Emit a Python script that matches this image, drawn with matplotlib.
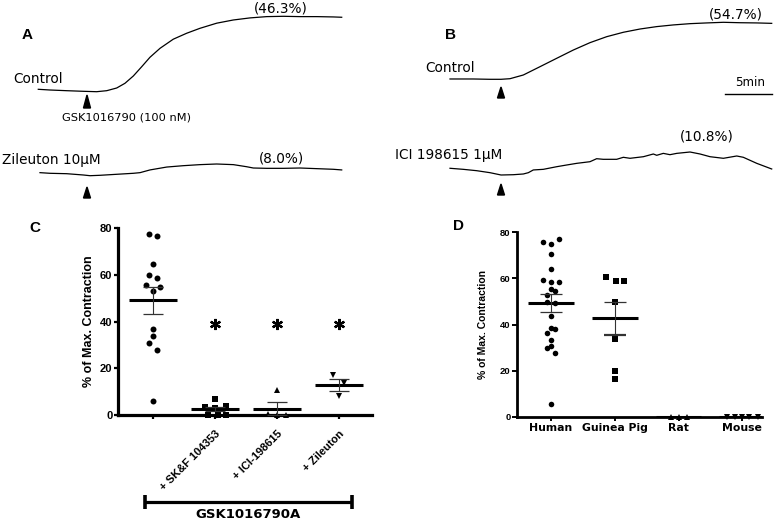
import numpy as np
import matplotlib
matplotlib.use("Agg")
from matplotlib import pyplot as plt
from matplotlib.patches import Polygon

W, H = 777, 521

# ---------------- panels A / B : isometric tension traces (time in min, % of max)
a_ctrl_t = [0, 1.24, 3.02, 4.79, 6.21, 7.28, 8.34, 9.22, 10.11, 11.0, 11.88, 12.95,
            14.36, 15.78, 17.2, 18.98, 20.75, 22.53, 24.3, 26.08, 27.85, 29.63, 31.4, 32.28]
a_ctrl_v = [1.5, 1.06, 0.63, 0.25, 0, 0.63, 2.31, 5.25, 9.81, 15.6, 21.5, 27.1,
            32.8, 36.5, 39.6, 42.8, 44.8, 46.1, 46.9, 47.1, 46.9, 46.9, 46.7, 46.5]

a_zil_t = [0, 1.06, 2.84, 4.61, 5.32, 6.38, 8.16, 9.93, 10.64, 11.7, 13.48, 15.25,
           17.02, 18.79, 20.57, 21.98, 22.69, 24.11, 25.89, 27.66, 29.43, 31.2, 32.09]
a_zil_v = [1.9, 1.5, 1.25, 0.44, 0, 0.25, 0.88, 1.5, 1.9, 3.6, 5.4, 6.25,
           6.9, 7.3, 6.9, 5.6, 4.8, 4.6, 4.6, 4.8, 4.4, 4.0, 3.6]

b_ctrl_t = [0, 2.48, 4.26, 5.43, 6.38, 7.8, 9.57, 11.35, 13.12, 14.89, 16.67, 18.44,
            20.21, 21.99, 23.76, 25.53, 27.31, 29.08, 30.85, 32.63, 34.22]
b_ctrl_v = [0.3, 0.3, 0, 0, 0.57, 4.1, 12, 20, 27.9, 34.9, 40.6, 44.8,
            47.9, 50.2, 51.8, 53, 53.7, 54.3, 53.9, 53.7, 53.3]

b_ici_t = [0, 1.41, 2.84, 4.26, 5.43, 6.74, 7.8, 8.33, 8.86, 9.93, 11.35, 12.41,
           13.48, 14.89, 15.6, 16.3, 17.73, 18.44, 19.15, 20.57, 21.63, 21.99, 22.69,
           23.4, 24.12, 25.53, 26.6, 27.66, 29.08, 30.5, 31.2, 32.63, 34.22]
b_ici_v = [3.2, 2.7, 2.05, 1.1, 0, 0.14, 0.48, 1.1, 2.4, 2.7, 3.95, 4.76,
           5.55, 6.33, 7.76, 7.47, 7.47, 8.43, 7.95, 8.71, 10.0, 9.38, 10.3,
           9.67, 10.3, 10.95, 10.0, 8.71, 7.95, 9.05, 8.43, 5.55, 2.86]

# ---------------- panel C
c_labels = ["", "+ SK&F 104353", "+ ICI-198615", "+ Zileuton"]
c_ctrl = [77.6, 76.6, 64.6, 59.7, 58.6, 55.6, 54.9, 53.1, 36.9, 33.7, 30.7, 27.9, 6.0]
c_ctrl_dx = [-0.06, 0.06, 0, -0.06, 0.06, -0.12, 0.12, 0, 0, 0, -0.06, 0.06, 0]
c_skf = [6.7, 3.3, 3.0, 3.8, 0, 0, 0]
c_skf_dx = [0, -0.17, 0, 0.17, -0.12, 0.05, 0.17]
c_ici = [10.6, 0.5, 0, 0.2]
c_ici_dx = [0, -0.15, 0, 0.15]
c_zil = [16.9, 13.9, 8.1]
c_zil_dx = [-0.1, 0.08, 0]
c_mean = [49.0, 2.6, 2.7, 12.7]
c_sem = [5.6, 1.0, 2.9, 2.6]
c_star = 39

# ---------------- panel D
d_labels = ["Human", "Guinea Pig", "Rat", "Mouse"]
d_human = [77.1, 75.8, 74.7, 70.7, 63.9, 59.2, 58.2, 58.2, 55.4, 54.6, 52.8,
           49.6, 49.2, 43.6, 38.6, 37.9, 36.3, 33.5, 30.8, 30.0, 27.5, 5.7]
d_human_dx = [0.12, -0.13, 0, 0, 0, -0.13, 0, 0.13, 0, 0.07, -0.07,
              -0.07, 0.07, 0, 0, 0.07, -0.07, 0, 0, -0.07, 0.07, 0]
d_gp = [60.7, 58.9, 58.9, 49.6, 33.6, 20.0, 16.5]
d_gp_dx = [-0.13, 0.02, 0.14, 0, 0, 0, 0]
d_rat = [0, 0, 0]
d_rat_dx = [-0.12, 0, 0.14]
d_mouse = [0, 0, 0, 0, 0]
d_mouse_dx = [-0.24, -0.11, 0, 0.1, 0.24]
d_mean = [49.3, 42.6, 0, 0]
d_sem = [3.85, 7.3, 0, 0]


fig = plt.figure(figsize=(W / 100, H / 100), dpi=100)

# overlay in pixel units for labels / annotations
ov = fig.add_axes([0, 0, 1, 1])
ov.set_xlim(0, W)
ov.set_ylim(H, 0)
ov.axis("off")


def trace(t, v, x0, x1, ytop, ybot):
    ax = fig.add_axes([x0 / W, 1 - ybot / H, (x1 - x0) / W, (ybot - ytop) / H])
    ax.plot(t, v, color="k", lw=0.9, clip_on=False)
    ax.set_xlim(min(t), max(t))
    ax.set_ylim(min(v), max(v))
    ax.axis("off")
    return ax


def arrowhead(x, ytip, h, w=7):
    ov.add_patch(Polygon([(x - w / 2, ytip + h), (x + w / 2, ytip + h), (x, ytip)],
                         closed=True, color="k"))


trace(a_ctrl_t, a_ctrl_v, 38.3, 341.7, 16.3, 91.7)
trace(a_zil_t, a_zil_v, 40, 341.7, 164, 175.7)
trace(b_ctrl_t, b_ctrl_v, 450, 771.7, 22.3, 79.3)
trace(b_ici_t, b_ici_v, 450, 771.7, 152, 175)

arrowhead(87, 95, 13)
arrowhead(87, 187, 11)
arrowhead(501, 87, 11)
arrowhead(501, 184, 11)

tf = dict(family="DejaVu Sans", fontsize=9.8, va="center")
ov.text(27, 35, "A", fontsize=11, fontweight="bold", family="Liberation Sans", ha="center", va="center")
ov.text(451, 35, "B", fontsize=11, fontweight="bold", family="Liberation Sans", ha="center", va="center")
ov.text(13, 79, "Control", ha="left", **tf)
ov.text(62, 117, "GSK1016790 (100 nM)", ha="left", family="DejaVu Sans", fontsize=8.2, va="center")
ov.text(281, 8, "(46.3%)", ha="center", **tf)
ov.text(2, 160, "Zileuton 10\u03bcM", ha="left", **tf)
ov.text(281, 158, "(8.0%)", ha="center", **tf)
ov.text(425, 68, "Control", ha="left", **tf)
ov.text(736, 14, "(54.7%)", ha="center", **tf)
ov.text(395, 155, "ICI 198615 1\u03bcM", ha="left", **tf)
ov.text(707, 137, "(10.8%)", ha="center", **tf)
ov.text(750, 82, "5min", ha="center", family="DejaVu Sans", fontsize=8.6, va="center")
ov.plot([725, 772], [94, 94], color="k", lw=1.0)

ov.text(35, 228, "C", fontsize=11, fontweight="bold", family="Liberation Sans", ha="center", va="center")
ov.text(458, 226, "D", fontsize=11, fontweight="bold", family="Liberation Sans", ha="center", va="center")

# bracket under panel C
ov.plot([145, 352], [502, 502], color="k", lw=2.3, solid_capstyle="butt")
ov.plot([145, 145], [495, 509], color="k", lw=2.6, solid_capstyle="butt")
ov.plot([352, 352], [495, 509], color="k", lw=2.6, solid_capstyle="butt")
ov.text(248, 514, "GSK1016790A", ha="center", va="center", fontsize=9.5,
        fontweight="bold", family="DejaVu Sans")


def style_axes(ax, lw):
    for s in ("top", "right"):
        ax.spines[s].set_visible(False)
    for s in ("left", "bottom"):
        ax.spines[s].set_linewidth(lw)
    ax.patch.set_alpha(0)


def scatter_groups(ax, groups, offsets, markers, ms):
    for i, (vals, dx, m) in enumerate(zip(groups, offsets, markers)):
        ax.plot(np.array(dx) + i, vals, linestyle="none", marker=m, color="k",
                markersize=ms, markeredgewidth=0, clip_on=False, zorder=4)


def mean_sem(ax, means, sems, half, caps, low_grey=None):
    for i, (m, s) in enumerate(zip(means, sems)):
        ax.hlines(m, i - half, i + half, color="k", lw=2.2, zorder=5)
        if s > 0:
            eb = ax.errorbar(i, m, yerr=s, fmt="none", ecolor="#333333",
                             elinewidth=0.8, capsize=caps, capthick=0.9, zorder=5)
            if low_grey is not None and i == low_grey:
                eb[1][0].set_color("#9a9a9a")
                eb[1][0].set_markeredgewidth(1.6)


# ---------------- panel C
axC = fig.add_axes([118 / W, 1 - 415 / H, (372 - 118) / W, (415 - 228) / H])
style_axes(axC, 2.3)
axC.set_xlim(-0.565, 3.53)
axC.set_ylim(0, 80)
scatter_groups(axC, [c_ctrl, c_skf, c_ici, c_zil],
               [c_ctrl_dx, c_skf_dx, c_ici_dx, c_zil_dx], ["o", "s", "^", "v"], 4.3)
mean_sem(axC, c_mean, c_sem, 0.39, 7.5)
axC.plot([1, 2, 3], [c_star] * 3, linestyle="none", marker=(6, 2, 0),
         color="k", markersize=8, markeredgewidth=1.6)
axC.set_yticks([0, 20, 40, 60, 80])
axC.set_xticks(range(4))
axC.set_xticklabels(c_labels, rotation=45, ha="right", rotation_mode="anchor",
                    fontsize=8, fontweight="bold", family="Liberation Sans")
for lab in axC.get_yticklabels():
    lab.set_fontweight("bold")
    lab.set_family("Liberation Sans")
    lab.set_fontsize(8)
axC.tick_params(axis="y", length=3, width=1.6, pad=1)
axC.tick_params(axis="x", length=3, width=1.6, pad=7)
axC.set_ylabel("% of Max. Contraction", fontsize=9, fontweight="bold", family="Liberation Sans")
axC.yaxis.set_label_coords(-0.09, 0.5)

# ---------------- panel D
axD = fig.add_axes([517 / W, 1 - 417 / H, (762 - 517) / W, (417 - 232) / H])
style_axes(axD, 2.0)
axD.set_xlim(-0.534, 3.31)
axD.set_ylim(0, 80)
scatter_groups(axD, [d_human, d_gp, d_rat, d_mouse],
               [d_human_dx, d_gp_dx, d_rat_dx, d_mouse_dx], ["o", "s", "^", "v"], 4.0)
mean_sem(axD, d_mean, d_sem, 0.36, 8, low_grey=1)
axD.set_yticks([0, 20, 40, 60, 80])
axD.set_xticks(range(4))
axD.set_xticklabels(d_labels, fontsize=7.8, fontweight="bold", family="DejaVu Sans")
for lab in axD.get_yticklabels():
    lab.set_fontweight("bold")
    lab.set_family("Liberation Sans")
    lab.set_fontsize(6.8)
axD.tick_params(axis="y", length=3.5, width=1.4, pad=1)
axD.tick_params(axis="x", length=3, width=1.4, pad=1.5)
axD.set_ylabel("% of Max. Contraction", fontsize=7.5, fontweight="bold", family="Liberation Sans")
axD.yaxis.set_label_coords(-0.118, 0.5)

plt.savefig("out.png", dpi=100)
